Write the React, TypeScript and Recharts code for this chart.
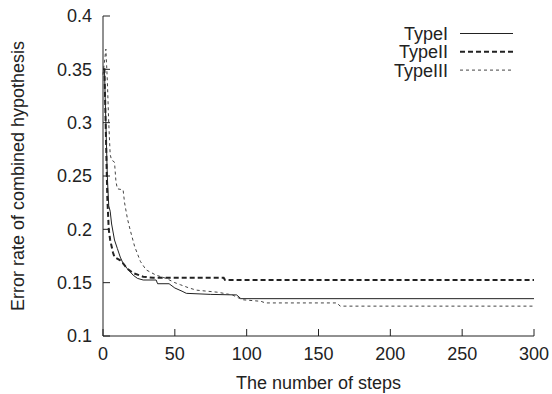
import { LineChart, Line, XAxis, YAxis, Legend } from 'recharts'

const xTicks = [0, 50, 100, 150, 200, 250, 300]
const yTicks = [0.1, 0.15, 0.2, 0.25, 0.3, 0.35, 0.4]

const typeISteps = [0, 1, 2, 3, 4, 5, 6, 8, 10, 12, 14, 17, 21, 24, 28, 37, 38, 46, 50, 55, 58, 75, 93, 96, 300]
const typeIValues = [0.35, 0.35, 0.3, 0.25, 0.222, 0.217, 0.205, 0.19, 0.182, 0.174, 0.168, 0.163, 0.157, 0.154, 0.1525, 0.1525, 0.149, 0.149, 0.145, 0.142, 0.14, 0.139, 0.1385, 0.135, 0.135]

const typeIISteps = [0, 1, 2, 3, 4, 5, 7, 8, 12, 14, 17, 21, 28, 35, 84, 85, 300]
const typeIIValues = [0.35, 0.35, 0.29, 0.23, 0.2, 0.19, 0.178, 0.174, 0.171, 0.168, 0.163, 0.159, 0.1556, 0.1545, 0.1545, 0.1525, 0.1525]

const typeIIISteps = [0, 2, 3, 4, 5, 6, 8, 9, 10, 14, 15, 17, 19, 22, 26, 30, 37, 44, 50, 54, 60, 65, 80, 90, 97, 110, 113, 163, 165, 300]
const typeIIIValues = [0.345, 0.369, 0.34, 0.3, 0.27, 0.265, 0.263, 0.245, 0.238, 0.237, 0.225, 0.21, 0.199, 0.184, 0.17, 0.162, 0.157, 0.154, 0.15, 0.148, 0.145, 0.143, 0.141, 0.1385, 0.134, 0.1325, 0.131, 0.131, 0.128, 0.128]

const zip = (xs: number[], ys: number[]) => xs.map((x, i) => ({ x, y: ys[i] }))

const series = [
  { name: 'TypeI', data: zip(typeISteps, typeIValues), dash: undefined, width: 1, color: '#222' },
  { name: 'TypeII', data: zip(typeIISteps, typeIIValues), dash: '5 3', width: 2, color: '#222' },
  { name: 'TypeIII', data: zip(typeIIISteps, typeIIIValues), dash: '3 3', width: 1, color: '#444' },
]

const font = '"Liberation Sans", Arial, Helvetica, sans-serif'
const ink = '#222'
const tickStyle = { fill: ink, fontSize: 18, fontFamily: font }

function KeyBox() {
  return (
    <svg width={552} height={90} style={{ fontFamily: font }}>
      {series.map((s, i) => {
        const cy = 33.5 + i * 18.3
        return (
          <g key={s.name}>
            <text x={448} y={cy + 6.4} textAnchor="end" fontSize={18} fill={ink}>{s.name}</text>
            <line x1={460} x2={513} y1={cy} y2={cy} stroke={s.color} strokeWidth={s.width} strokeDasharray={s.dash} />
          </g>
        )
      })}
    </svg>
  )
}

export default function App() {
  return (
    <div style={{ position: 'absolute', left: 0, top: 0, background: '#fff' }}>
      <LineChart width={552} height={394} margin={{ top: 16, right: 18, bottom: 0, left: 0 }}>
        <XAxis
          xAxisId="bottom"
          dataKey="x"
          type="number"
          domain={[0, 300]}
          ticks={xTicks}
          interval={0}
          height={58}
          tickSize={-7}
          tickMargin={18}
          tick={tickStyle}
          stroke={ink}
          label={{
            content: () => (
              <text x={318.5} y={388.5} textAnchor="middle" fontSize={18} fill={ink} fontFamily={font}>
                The number of steps
              </text>
            ),
          }}
        />
        <XAxis
          xAxisId="top"
          orientation="top"
          dataKey="x"
          type="number"
          domain={[0, 300]}
          ticks={xTicks}
          interval={0}
          height={0}
          tickSize={-7}
          tick={() => <g />}
          stroke={ink}
        />
        <YAxis
          yAxisId="left"
          type="number"
          domain={[0.1, 0.4]}
          ticks={yTicks}
          interval={0}
          width={103}
          tickSize={-7}
          tickMargin={18}
          tick={tickStyle}
          stroke={ink}
          allowDataOverflow
          label={{
            content: () => (
              <text x={24} y={176} transform="rotate(-90, 24, 176)" textAnchor="middle" fontSize={18} fill={ink} fontFamily={font}>
                Error rate of combined hypothesis
              </text>
            ),
          }}
        />
        <YAxis
          yAxisId="right"
          orientation="right"
          type="number"
          domain={[0.1, 0.4]}
          ticks={yTicks}
          interval={0}
          width={0}
          tickSize={-7}
          tick={() => <g />}
          stroke={ink}
          allowDataOverflow
        />
        <Legend
          layout="vertical"
          align="center"
          verticalAlign="middle"
          wrapperStyle={{ left: 0, top: 0, width: 552, height: 90 }}
          content={() => <KeyBox />}
        />
        {series.map(s => (
          <Line
            key={s.name}
            xAxisId="bottom"
            yAxisId="left"
            data={s.data}
            dataKey="y"
            name={s.name}
            type="linear"
            stroke={s.color}
            strokeWidth={s.width}
            strokeDasharray={s.dash}
            dot={false}
            activeDot={false}
            isAnimationActive={false}
          />
        ))}
      </LineChart>
    </div>
  )
}
